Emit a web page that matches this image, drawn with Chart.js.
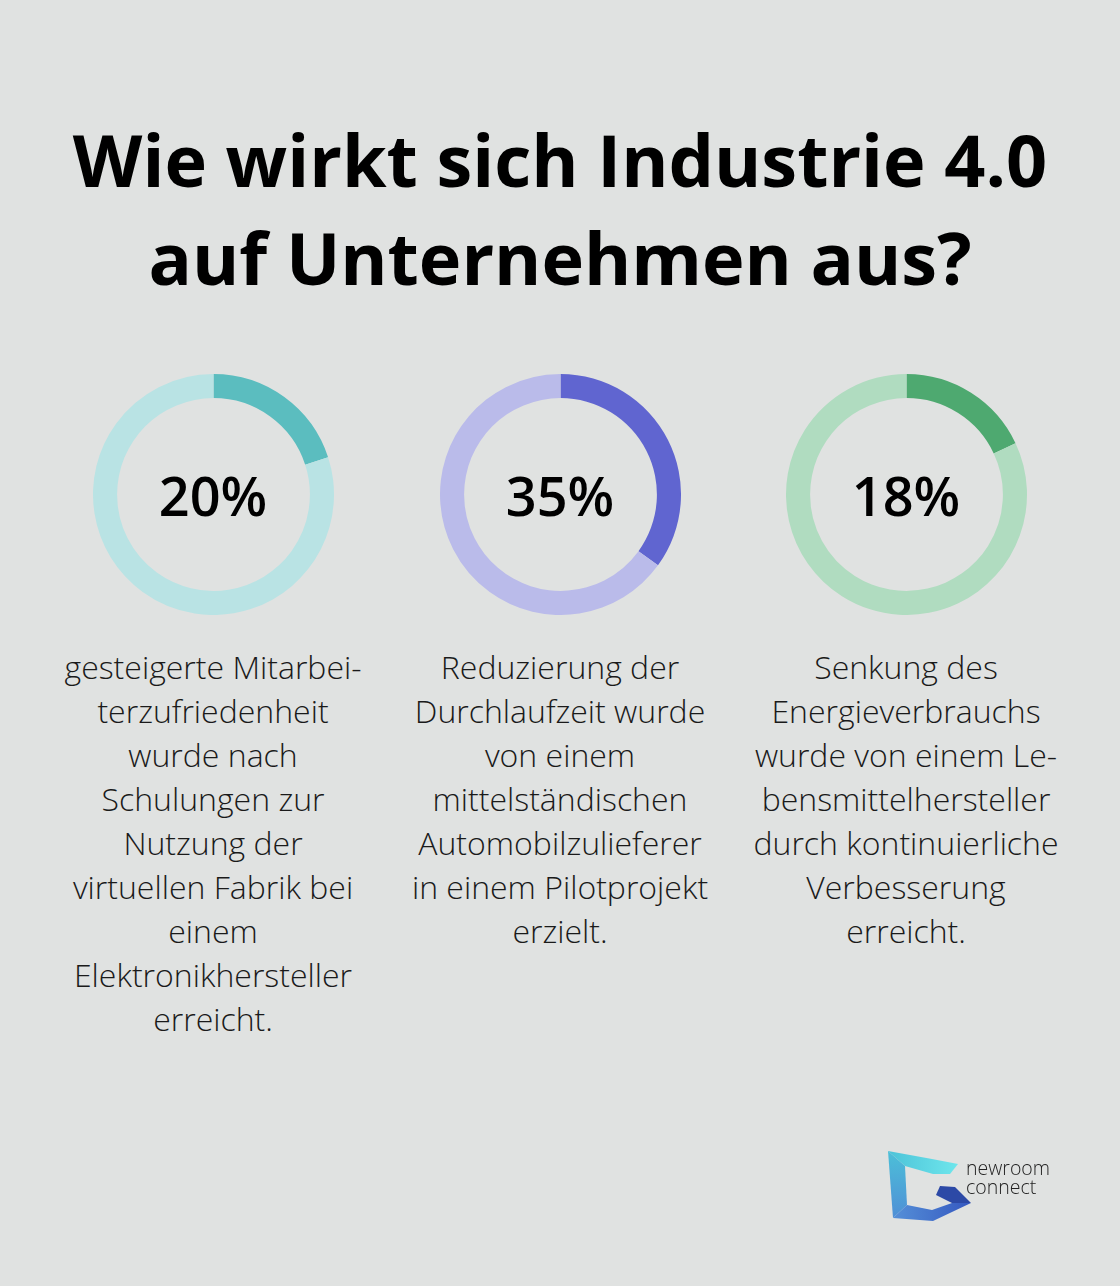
<!DOCTYPE html>
<html>
<head>
<meta charset="utf-8">
<script src="https://cdn.jsdelivr.net/npm/chart.js@4.4.1/dist/chart.umd.min.js"></script>
<style>
  html, body { margin:0; padding:0; }
  body { width:1120px; height:1286px; background:#e0e2e1; position:relative; overflow:hidden; font-family:"Open Sans", sans-serif; }
  .title { position:absolute; left:0; width:1120px; top:110px; text-align:center; font-weight:700; font-size:72px; line-height:98px; color:#000; }
  .donut { position:absolute; top:374px; width:241px; height:241px; }
  .donut canvas { position:absolute; left:0; top:0; }
  .val { position:absolute; left:0; top:0; width:241px; height:241px; display:flex; align-items:center; justify-content:center; font-size:54px; font-weight:600; color:#000; }
  .desc { position:absolute; top:645px; width:360px; text-align:center; font-size:32px; font-weight:300; line-height:44px; color:#1a1a1a; }
  .logo-text { position:absolute; left:966px; top:1158px; font-size:19.5px; line-height:19px; font-weight:300; color:#222; font-family:"Open Sans", sans-serif; }
</style>
</head>
<body>
<div class="title">Wie wirkt sich Industrie 4.0<br>auf Unternehmen aus?</div>
<div id="charts"></div>

<svg style="position:absolute;left:0;top:0" width="1120" height="1286">
  <defs>
    <linearGradient id="gTop" x1="0" y1="0" x2="1" y2="0">
      <stop offset="0" stop-color="#4cc3d8"/><stop offset="1" stop-color="#6ee6ec"/>
    </linearGradient>
    <linearGradient id="gLeft" x1="0" y1="0" x2="0" y2="1">
      <stop offset="0" stop-color="#4cc0d8"/><stop offset="1" stop-color="#4f8fd6"/>
    </linearGradient>
    <linearGradient id="gBot" x1="0" y1="0" x2="1" y2="0">
      <stop offset="0" stop-color="#5590d8"/><stop offset="1" stop-color="#3558c0"/>
    </linearGradient>
  </defs>
  <polygon points="888,1151 932,1159 958,1164 950,1174 933,1174 905,1166" fill="url(#gTop)"/>
  <polygon points="888,1151 905,1166 907,1205 893,1218" fill="url(#gLeft)"/>
  <polygon points="893,1218 907,1205 932,1210 952,1203 971,1203 933,1221" fill="url(#gBot)"/>
  <polygon points="940,1186 955,1187 971,1203 952,1203 936,1195" fill="#2c49a6"/>
</svg>
<div class="logo-text">newroom<br>connect</div>

<script>
const percentLabels = ["20%", "35%", "18%"];
const values = [20, 35, 18];
const remainders = [80, 65, 82];
const mainColors = ["#5bbdbf", "#6065d0", "#4ea970"];
const lightColors = ["#b9e3e4", "#babbea", "#b0dcc0"];
const descriptions = [
  ["gesteigerte Mitarbei-", "terzufriedenheit", "wurde nach", "Schulungen zur", "Nutzung der", "virtuellen Fabrik bei", "einem", "Elektronikhersteller", "erreicht."],
  ["Reduzierung der", "Durchlaufzeit wurde", "von einem", "mittelständischen", "Automobilzulieferer", "in einem Pilotprojekt", "erzielt."],
  ["Senkung des", "Energieverbrauchs", "wurde von einem Le-", "bensmittelhersteller", "durch kontinuierliche", "Verbesserung", "erreicht."]
];
const centersX = [213, 560, 906];

const container = document.getElementById('charts');
for (let i = 0; i < values.length; i++) {
  const wrap = document.createElement('div');
  wrap.className = 'donut';
  wrap.style.left = (centersX[i] - 120.5) + 'px';
  const cv = document.createElement('canvas');
  cv.width = 241; cv.height = 241;
  wrap.appendChild(cv);
  const v = document.createElement('div');
  v.className = 'val';
  v.textContent = percentLabels[i];
  wrap.appendChild(v);
  container.appendChild(wrap);

  new Chart(cv, {
    type: 'doughnut',
    data: {
      labels: ['value', 'rest'],
      datasets: [{
        data: [values[i], remainders[i]],
        backgroundColor: [mainColors[i], lightColors[i]],
        borderWidth: 0,
        hoverOffset: 0
      }]
    },
    options: {
      responsive: false,
      animation: false,
      cutout: '80%',
      layout: { padding: 0 },
      plugins: { legend: { display: false }, tooltip: { enabled: false } },
      events: []
    }
  });

  const d = document.createElement('div');
  d.className = 'desc';
  d.style.left = (centersX[i] - 180) + 'px';
  d.innerHTML = descriptions[i].join('<br>');
  container.appendChild(d);
}
</script>
</body>
</html>
